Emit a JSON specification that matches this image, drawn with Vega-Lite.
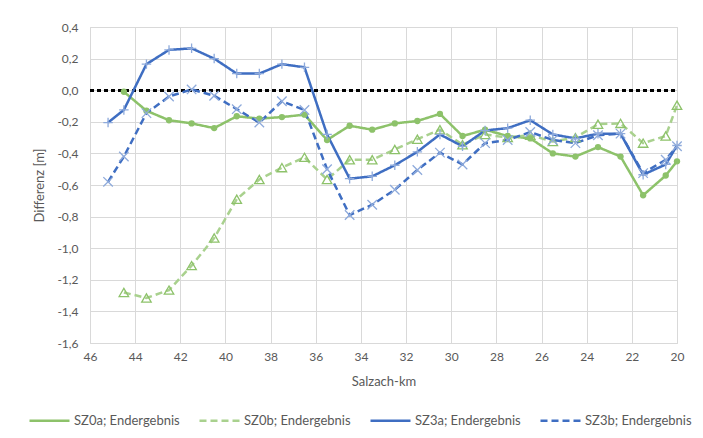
{
  "$schema": "https://vega.github.io/schema/vega-lite/v6.json",
  "width": 587,
  "height": 316,
  "autosize": {"type": "none"},
  "padding": {"left": 90, "top": 27, "right": 26, "bottom": 95},
  "background": "white",
  "config": {
    "font": "Lato",
    "view": {"stroke": "#D9D9D9"},
    "axis": {"gridColor": "#D9D9D9", "gridWidth": 1, "domain": false, "ticks": false, "labelColor": "#595959", "labelFontSize": 12, "titleColor": "#595959", "titleFontSize": 13, "titleFontWeight": "normal"},
    "legend": {"orient": "none", "legendX": -62, "legendY": 372, "direction": "horizontal", "columns": 4, "symbolType": "stroke", "symbolSize": 1600, "symbolStrokeWidth": 2.5, "labelFontSize": 13, "labelColor": "#595959", "columnPadding": 14, "symbolOffset": 0, "labelOffset": 3}
  },
  "data": {"values": [
    {"km": 44.5, "v": -0.01, "s": "SZ0a; Endergebnis"},
    {"km": 43.5, "v": -0.13, "s": "SZ0a; Endergebnis"},
    {"km": 42.5, "v": -0.19, "s": "SZ0a; Endergebnis"},
    {"km": 41.5, "v": -0.21, "s": "SZ0a; Endergebnis"},
    {"km": 40.5, "v": -0.24, "s": "SZ0a; Endergebnis"},
    {"km": 39.5, "v": -0.165, "s": "SZ0a; Endergebnis"},
    {"km": 38.5, "v": -0.18, "s": "SZ0a; Endergebnis"},
    {"km": 37.5, "v": -0.17, "s": "SZ0a; Endergebnis"},
    {"km": 36.5, "v": -0.155, "s": "SZ0a; Endergebnis"},
    {"km": 35.5, "v": -0.315, "s": "SZ0a; Endergebnis"},
    {"km": 34.5, "v": -0.225, "s": "SZ0a; Endergebnis"},
    {"km": 33.5, "v": -0.25, "s": "SZ0a; Endergebnis"},
    {"km": 32.5, "v": -0.21, "s": "SZ0a; Endergebnis"},
    {"km": 31.5, "v": -0.195, "s": "SZ0a; Endergebnis"},
    {"km": 30.5, "v": -0.15, "s": "SZ0a; Endergebnis"},
    {"km": 29.5, "v": -0.29, "s": "SZ0a; Endergebnis"},
    {"km": 28.5, "v": -0.25, "s": "SZ0a; Endergebnis"},
    {"km": 27.5, "v": -0.29, "s": "SZ0a; Endergebnis"},
    {"km": 26.5, "v": -0.305, "s": "SZ0a; Endergebnis"},
    {"km": 25.5, "v": -0.4, "s": "SZ0a; Endergebnis"},
    {"km": 24.5, "v": -0.42, "s": "SZ0a; Endergebnis"},
    {"km": 23.5, "v": -0.36, "s": "SZ0a; Endergebnis"},
    {"km": 22.5, "v": -0.42, "s": "SZ0a; Endergebnis"},
    {"km": 21.5, "v": -0.665, "s": "SZ0a; Endergebnis"},
    {"km": 20.5, "v": -0.54, "s": "SZ0a; Endergebnis"},
    {"km": 20.0, "v": -0.45, "s": "SZ0a; Endergebnis"},
    {"km": 44.5, "v": -1.28, "s": "SZ0b; Endergebnis"},
    {"km": 43.5, "v": -1.315, "s": "SZ0b; Endergebnis"},
    {"km": 42.5, "v": -1.265, "s": "SZ0b; Endergebnis"},
    {"km": 41.5, "v": -1.11, "s": "SZ0b; Endergebnis"},
    {"km": 40.5, "v": -0.935, "s": "SZ0b; Endergebnis"},
    {"km": 39.5, "v": -0.69, "s": "SZ0b; Endergebnis"},
    {"km": 38.5, "v": -0.565, "s": "SZ0b; Endergebnis"},
    {"km": 37.5, "v": -0.49, "s": "SZ0b; Endergebnis"},
    {"km": 36.5, "v": -0.425, "s": "SZ0b; Endergebnis"},
    {"km": 35.5, "v": -0.565, "s": "SZ0b; Endergebnis"},
    {"km": 34.5, "v": -0.44, "s": "SZ0b; Endergebnis"},
    {"km": 33.5, "v": -0.44, "s": "SZ0b; Endergebnis"},
    {"km": 32.5, "v": -0.375, "s": "SZ0b; Endergebnis"},
    {"km": 31.5, "v": -0.31, "s": "SZ0b; Endergebnis"},
    {"km": 30.5, "v": -0.25, "s": "SZ0b; Endergebnis"},
    {"km": 29.5, "v": -0.345, "s": "SZ0b; Endergebnis"},
    {"km": 28.5, "v": -0.28, "s": "SZ0b; Endergebnis"},
    {"km": 27.5, "v": -0.3, "s": "SZ0b; Endergebnis"},
    {"km": 26.5, "v": -0.285, "s": "SZ0b; Endergebnis"},
    {"km": 25.5, "v": -0.325, "s": "SZ0b; Endergebnis"},
    {"km": 24.5, "v": -0.3, "s": "SZ0b; Endergebnis"},
    {"km": 23.5, "v": -0.215, "s": "SZ0b; Endergebnis"},
    {"km": 22.5, "v": -0.21, "s": "SZ0b; Endergebnis"},
    {"km": 21.5, "v": -0.335, "s": "SZ0b; Endergebnis"},
    {"km": 20.5, "v": -0.29, "s": "SZ0b; Endergebnis"},
    {"km": 20.0, "v": -0.095, "s": "SZ0b; Endergebnis"},
    {"km": 45.2, "v": -0.205, "s": "SZ3a; Endergebnis"},
    {"km": 44.5, "v": -0.125, "s": "SZ3a; Endergebnis"},
    {"km": 43.5, "v": 0.165, "s": "SZ3a; Endergebnis"},
    {"km": 42.5, "v": 0.255, "s": "SZ3a; Endergebnis"},
    {"km": 41.5, "v": 0.265, "s": "SZ3a; Endergebnis"},
    {"km": 40.5, "v": 0.2, "s": "SZ3a; Endergebnis"},
    {"km": 39.5, "v": 0.105, "s": "SZ3a; Endergebnis"},
    {"km": 38.5, "v": 0.105, "s": "SZ3a; Endergebnis"},
    {"km": 37.5, "v": 0.165, "s": "SZ3a; Endergebnis"},
    {"km": 36.5, "v": 0.145, "s": "SZ3a; Endergebnis"},
    {"km": 35.5, "v": -0.28, "s": "SZ3a; Endergebnis"},
    {"km": 34.5, "v": -0.56, "s": "SZ3a; Endergebnis"},
    {"km": 33.5, "v": -0.545, "s": "SZ3a; Endergebnis"},
    {"km": 32.5, "v": -0.475, "s": "SZ3a; Endergebnis"},
    {"km": 31.5, "v": -0.39, "s": "SZ3a; Endergebnis"},
    {"km": 30.5, "v": -0.28, "s": "SZ3a; Endergebnis"},
    {"km": 29.5, "v": -0.355, "s": "SZ3a; Endergebnis"},
    {"km": 28.5, "v": -0.255, "s": "SZ3a; Endergebnis"},
    {"km": 27.5, "v": -0.24, "s": "SZ3a; Endergebnis"},
    {"km": 26.5, "v": -0.19, "s": "SZ3a; Endergebnis"},
    {"km": 25.5, "v": -0.28, "s": "SZ3a; Endergebnis"},
    {"km": 24.5, "v": -0.305, "s": "SZ3a; Endergebnis"},
    {"km": 23.5, "v": -0.275, "s": "SZ3a; Endergebnis"},
    {"km": 22.5, "v": -0.275, "s": "SZ3a; Endergebnis"},
    {"km": 21.5, "v": -0.535, "s": "SZ3a; Endergebnis"},
    {"km": 20.5, "v": -0.47, "s": "SZ3a; Endergebnis"},
    {"km": 20.0, "v": -0.35, "s": "SZ3a; Endergebnis"},
    {"km": 45.2, "v": -0.58, "s": "SZ3b; Endergebnis"},
    {"km": 44.5, "v": -0.42, "s": "SZ3b; Endergebnis"},
    {"km": 43.5, "v": -0.145, "s": "SZ3b; Endergebnis"},
    {"km": 42.5, "v": -0.04, "s": "SZ3b; Endergebnis"},
    {"km": 41.5, "v": 0.005, "s": "SZ3b; Endergebnis"},
    {"km": 40.5, "v": -0.035, "s": "SZ3b; Endergebnis"},
    {"km": 39.5, "v": -0.12, "s": "SZ3b; Endergebnis"},
    {"km": 38.5, "v": -0.205, "s": "SZ3b; Endergebnis"},
    {"km": 37.5, "v": -0.07, "s": "SZ3b; Endergebnis"},
    {"km": 36.5, "v": -0.125, "s": "SZ3b; Endergebnis"},
    {"km": 35.5, "v": -0.5, "s": "SZ3b; Endergebnis"},
    {"km": 34.5, "v": -0.79, "s": "SZ3b; Endergebnis"},
    {"km": 33.5, "v": -0.725, "s": "SZ3b; Endergebnis"},
    {"km": 32.5, "v": -0.63, "s": "SZ3b; Endergebnis"},
    {"km": 31.5, "v": -0.505, "s": "SZ3b; Endergebnis"},
    {"km": 30.5, "v": -0.395, "s": "SZ3b; Endergebnis"},
    {"km": 29.5, "v": -0.47, "s": "SZ3b; Endergebnis"},
    {"km": 28.5, "v": -0.335, "s": "SZ3b; Endergebnis"},
    {"km": 27.5, "v": -0.315, "s": "SZ3b; Endergebnis"},
    {"km": 26.5, "v": -0.265, "s": "SZ3b; Endergebnis"},
    {"km": 25.5, "v": -0.315, "s": "SZ3b; Endergebnis"},
    {"km": 24.5, "v": -0.335, "s": "SZ3b; Endergebnis"},
    {"km": 23.5, "v": -0.285, "s": "SZ3b; Endergebnis"},
    {"km": 22.5, "v": -0.275, "s": "SZ3b; Endergebnis"},
    {"km": 21.5, "v": -0.525, "s": "SZ3b; Endergebnis"},
    {"km": 20.5, "v": -0.44, "s": "SZ3b; Endergebnis"},
    {"km": 20.0, "v": -0.355, "s": "SZ3b; Endergebnis"}
  ]},
  "encoding": {
    "x": {"field": "km", "type": "quantitative", "title": "Salzach-km",
      "scale": {"domain": [46, 20], "nice": false, "zero": false},
      "axis": {"values": [46, 44, 42, 40, 38, 36, 34, 32, 30, 28, 26, 24, 22, 20], "labelPadding": 8, "titlePadding": 13, "labelFlush": false}},
    "y": {"field": "v", "type": "quantitative", "title": "Differenz [m]",
      "scale": {"domain": [-1.6, 0.4], "nice": false, "zero": false},
      "axis": {"values": [-1.6, -1.4, -1.2, -1, -0.8, -0.6, -0.4, -0.2, 0, 0.2, 0.4], "labelPadding": 12, "titlePadding": 10,
        "labelExpr": "replace(replace(format(datum.value, '.1f'), '.', ','), '\u2212', '-')"}}
  },
  "layer": [
    {
      "mark": {"type": "rule", "color": "black", "strokeWidth": 2, "strokeDash": [4, 3]},
      "encoding": {"x": {"datum": 46}, "x2": {"datum": 20}, "y": {"datum": 0}}
    },
    {
      "mark": {"type": "line", "strokeWidth": 2.5},
      "encoding": {
        "color": {"field": "s", "type": "nominal", "title": null,
          "scale": {"domain": ["SZ0a; Endergebnis", "SZ0b; Endergebnis", "SZ3a; Endergebnis", "SZ3b; Endergebnis"], "range": ["#8DC26A", "#A9D18E", "#3F6EC2", "#3F6EC2"]}},
        "strokeDash": {"field": "s", "type": "nominal", "title": null,
          "scale": {"domain": ["SZ0a; Endergebnis", "SZ0b; Endergebnis", "SZ3a; Endergebnis", "SZ3b; Endergebnis"], "range": [[1, 0], [7, 4], [1, 0], [7, 4]]}}
      }
    },
    {
      "transform": [{"filter": "datum.s === 'SZ0a; Endergebnis'"}],
      "mark": {"type": "point", "filled": true, "shape": "circle", "size": 40, "color": "#8DC26A", "opacity": 1}
    },
    {
      "transform": [{"filter": "datum.s !== 'SZ0a; Endergebnis'"}],
      "mark": {"type": "point", "filled": false, "strokeWidth": 1.3, "opacity": 1},
      "encoding": {
        "shape": {"field": "s", "type": "nominal", "legend": null,
          "scale": {"domain": ["SZ0b; Endergebnis", "SZ3a; Endergebnis", "SZ3b; Endergebnis"], "range": ["triangle-up", "M-1,0L1,0M0,-1L0,1", "M-1,-1L1,1M-1,1L1,-1"]}},
        "stroke": {"field": "s", "type": "nominal", "legend": null,
          "scale": {"domain": ["SZ0b; Endergebnis", "SZ3a; Endergebnis", "SZ3b; Endergebnis"], "range": ["#8DC26A", "#8EAADB", "#8EAADB"]}},
        "size": {"value": 90}
      }
    }
  ]
}
